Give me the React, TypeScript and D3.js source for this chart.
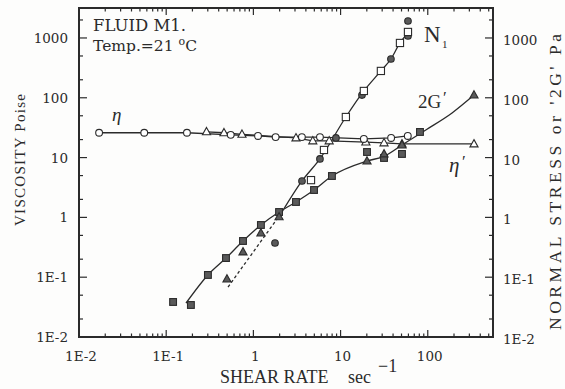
import React from 'react';
import * as d3 from 'd3';

// ---- data ----
const etaX = [0.017, 0.056, 0.173, 0.55, 1.13, 1.8, 3.6, 5.8, 18.5, 38, 59];
const etaY = [26, 26, 26, 24, 23, 22, 22, 22, 20.5, 21.3, 23];

const etaPX = [0.29, 0.46, 0.74, 3.08, 4.8, 7.4, 19.5, 31.5, 50.6, 339];
const etaPY = [27, 26, 24.5, 21.3, 19, 19, 18.2, 17.6, 16.9, 16.9];

const n1SqX = [4.58, 6.45, 11.5, 18.5, 29, 48, 59.3];
const n1SqY = [4.2, 13.4, 47.7, 130, 281, 825, 1260];

const n1CircX = [1.77, 3.61, 5.8, 8.85, 17.6, 37.8, 59.3, 59.3];
const n1CircY = [0.373, 4.06, 9.5, 21.3, 111, 445, 1080, 1920];

const n1LineX = [2.13, 3.61, 5.8, 11.5, 18.5, 29, 37.8, 48, 59.3];
const n1LineY = [1.23, 4.06, 9.5, 47.7, 130, 281, 445, 825, 1213];

const n1DashX = [0.512, 2.13];
const n1DashY = [0.0685, 1.23];

const g2SqX = [0.12, 0.192, 0.301, 0.485, 0.76, 1.22, 1.97, 3.08, 4.96, 7.96, 20.1, 31.5, 50.6, 81.4];
const g2SqY = [0.0385, 0.0343, 0.109, 0.209, 0.403, 0.746, 1.23, 1.81, 2.87, 4.92, 12.4, 9.85, 11.5, 26.8];

const triFX = [0.498, 0.76, 1.22, 1.97, 20.1, 31.5, 50.6, 339];
const triFY = [0.093, 0.264, 0.548, 1.02, 8.77, 11.5, 16.2, 111];

const g2LineX = [0.169, 0.301, 0.485, 0.76, 1.22, 1.97, 3.08, 4.96, 7.96, 20.1, 31.5, 50.6, 95, 190, 339];
const g2LineY = [0.037, 0.109, 0.209, 0.403, 0.746, 1.23, 1.81, 2.87, 4.92, 8.77, 10.5, 16.2, 29, 55.7, 111];

const decades = [0.01, 0.1, 1, 10, 100, 1000];
const xTickLabels = ['1E-2', '1E-1', '1', '10', '100'];
const yTickLabels = ['1E-2', '1E-1', '1', '10', '100', '1000'];

// ---- layout ----
const W = 565, H = 389;
const X0 = 79, X1 = 493, Y0 = 8, Y1 = 337;
const INK = '#2b2b2b';
const GRAY = '#5a5a5a';

const x = d3.scaleLog().domain([0.01, 560]).range([X0, X1]);
const y = d3.scaleLog().domain([0.01, 3170]).range([Y1, Y0]);

const zip = (a: number[], b: number[]) => a.map((v, i) => [v, b[i]] as [number, number]);

const lineLin = d3.line<[number, number]>().x(d => x(d[0])).y(d => y(d[1]));
const lineMono = d3.line<[number, number]>().x(d => x(d[0])).y(d => y(d[1])).curve(d3.curveMonotoneX);

const tri = (cx: number, cy: number, s: number) =>
  `M${cx},${cy - s * 0.62}L${cx + s * 0.58},${cy + s * 0.42}L${cx - s * 0.58},${cy + s * 0.42}Z`;

export default function App() {
  const xMinor: number[] = [];
  for (let d = 0.01; d < 1000; d *= 10) for (let k = 2; k <= 9; k++) { const v = d * k; if (v < 560) xMinor.push(v); }
  const yMinor: number[] = [];
  for (let d = 0.01; d < 10000; d *= 10) for (const k of [2, 5]) { const v = d * k; if (v < 3170) yMinor.push(v); }
  const xMajor = decades.filter(v => v <= 100);

  const tickFont = { fontFamily: '"DejaVu Serif", serif', fontSize: 13.5, fill: INK } as const;
  const serif = '"Liberation Serif", serif';

  return (
    <svg width={W} height={H} style={{ position: 'absolute', left: 0, top: 0, background: '#fdfdfc' }}>
      <rect x={0} y={0} width={W} height={H} fill="#fdfdfc" />

      {/* ticks */}
      <g stroke={INK} strokeWidth={1.2}>
        {decades.map((v, i) => (
          <g key={'ym' + i}>
            <line x1={X0} x2={X0 + 8} y1={y(v)} y2={y(v)} />
            <line x1={X1} x2={X1 - 8} y1={y(v)} y2={y(v)} />
          </g>
        ))}
        {yMinor.map((v, i) => (
          <g key={'yn' + i}>
            <line x1={X0} x2={X0 + 4} y1={y(v)} y2={y(v)} />
            <line x1={X1} x2={X1 - 4} y1={y(v)} y2={y(v)} />
          </g>
        ))}
        {xMajor.map((v, i) => (
          <g key={'xm' + i}>
            <line x1={x(v)} x2={x(v)} y1={Y1} y2={Y1 - 7} />
            <line x1={x(v)} x2={x(v)} y1={Y0} y2={Y0 + 7} />
          </g>
        ))}
        {xMinor.map((v, i) => (
          <g key={'xn' + i}>
            <line x1={x(v)} x2={x(v)} y1={Y1} y2={Y1 - 3.5} />
            <line x1={x(v)} x2={x(v)} y1={Y0} y2={Y0 + 3.5} />
          </g>
        ))}
      </g>

      {/* frame */}
      <rect x={X0} y={Y0} width={X1 - X0} height={Y1 - Y0} fill="none" stroke={INK} strokeWidth={2} />

      {/* tick labels */}
      {yTickLabels.map((t, i) => (
        <text key={'yl' + i} x={68} y={y(decades[i])} textAnchor="end" dominantBaseline="central" {...tickFont}>{t}</text>
      ))}
      {yTickLabels.map((t, i) => (
        <text key={'yr' + i} x={503} y={y(decades[i]) + 2} textAnchor="start" dominantBaseline="central" {...tickFont}>{t}</text>
      ))}
      {xTickLabels.map((t, i) => (
        <text key={'xl' + i} x={x(decades[i]) + 2} y={361} textAnchor="middle" {...tickFont}>{t}</text>
      ))}

      {/* axis titles */}
      <text x={220} y={383} fontFamily={serif} fontSize={18} fill={INK}>SHEAR RATE</text>
      <text x={348} y={383} fontFamily={serif} fontSize={18} fill={INK}>sec</text>
      <text x={378} y={372} fontFamily={serif} fontSize={18} fill={INK}>−1</text>
      <text transform="translate(25,160) rotate(-90)" textAnchor="middle" fontFamily={serif}
        fontSize={15} fill={INK} textLength={132} lengthAdjust="spacing">VISCOSITY  Poise</text>
      <text transform="translate(561,182) rotate(-90)" textAnchor="middle" fontFamily={serif}
        fontSize={17.5} fill={INK} textLength={296} lengthAdjust="spacing">NORMAL STRESS  or  '2G'  Pa</text>

      {/* annotations */}
      <text x={93} y={31} fontFamily='"DejaVu Serif", serif' fontSize={16.5} fill={INK}>FLUID M1.</text>
      <text x={93} y={51} fontFamily='"DejaVu Serif", serif' fontSize={15.5} fill={INK}>Temp.=21 <tspan fontSize={11} dy={-6}>o</tspan><tspan dy={6}>C</tspan></text>
      <text x={112} y={121} fontFamily={serif} fontStyle="italic" fontSize={19} fill={INK}>η</text>
      <text x={424} y={42} fontFamily={serif} fontSize={23} fill={INK}>N</text>
      <text x={442} y={48} fontFamily={serif} fontSize={11} fill={INK}>1</text>
      <text x={418} y={108} fontFamily={serif} fontSize={19} fill={INK}>2G</text>
      <text x={443} y={103} fontFamily={serif} fontSize={17} fill={INK}>′</text>
      <text x={449} y={172} fontFamily={serif} fontStyle="italic" fontSize={21} fill={INK}>η</text>
      <text x={462} y={167} fontFamily={serif} fontSize={17} fill={INK}>′</text>

      {/* lines */}
      <g fill="none" stroke={INK} strokeWidth={1.3}>
        <path d={lineLin(zip(etaX, etaY)) || ''} />
        <path d={lineLin(zip(etaPX, etaPY)) || ''} />
        <path d={lineMono(zip(n1LineX, n1LineY)) || ''} />
        <path d={lineLin(zip(n1DashX, n1DashY)) || ''} strokeDasharray="3,2.5" />
        <path d={lineMono(zip(g2LineX, g2LineY)) || ''} />
      </g>

      {/* markers */}
      <g stroke={INK} strokeWidth={1.1}>
        {zip(etaPX, etaPY).map((d, i) => (
          <path key={'tp' + i} d={tri(x(d[0]), y(d[1]), 7)} fill="#fff" />
        ))}
        {zip(etaX, etaY).map((d, i) => (
          <circle key={'ec' + i} cx={x(d[0])} cy={y(d[1])} r={3.4} fill="#fff" />
        ))}
        {zip(g2SqX, g2SqY).map((d, i) => (
          <rect key={'gs' + i} x={x(d[0]) - 3.4} y={y(d[1]) - 3.4} width={6.8} height={6.8} fill={GRAY} />
        ))}
        {zip(triFX, triFY).map((d, i) => (
          <path key={'tf' + i} d={tri(x(d[0]), y(d[1]), 7)} fill={GRAY} />
        ))}
        {zip(n1CircX, n1CircY).map((d, i) => (
          <circle key={'nc' + i} cx={x(d[0])} cy={y(d[1])} r={3.3} fill={GRAY} />
        ))}
        {zip(n1SqX, n1SqY).map((d, i) => (
          <rect key={'ns' + i} x={x(d[0]) - 3.6} y={y(d[1]) - 3.6} width={7.2} height={7.2} fill="#fff" />
        ))}
      </g>
    </svg>
  );
}
